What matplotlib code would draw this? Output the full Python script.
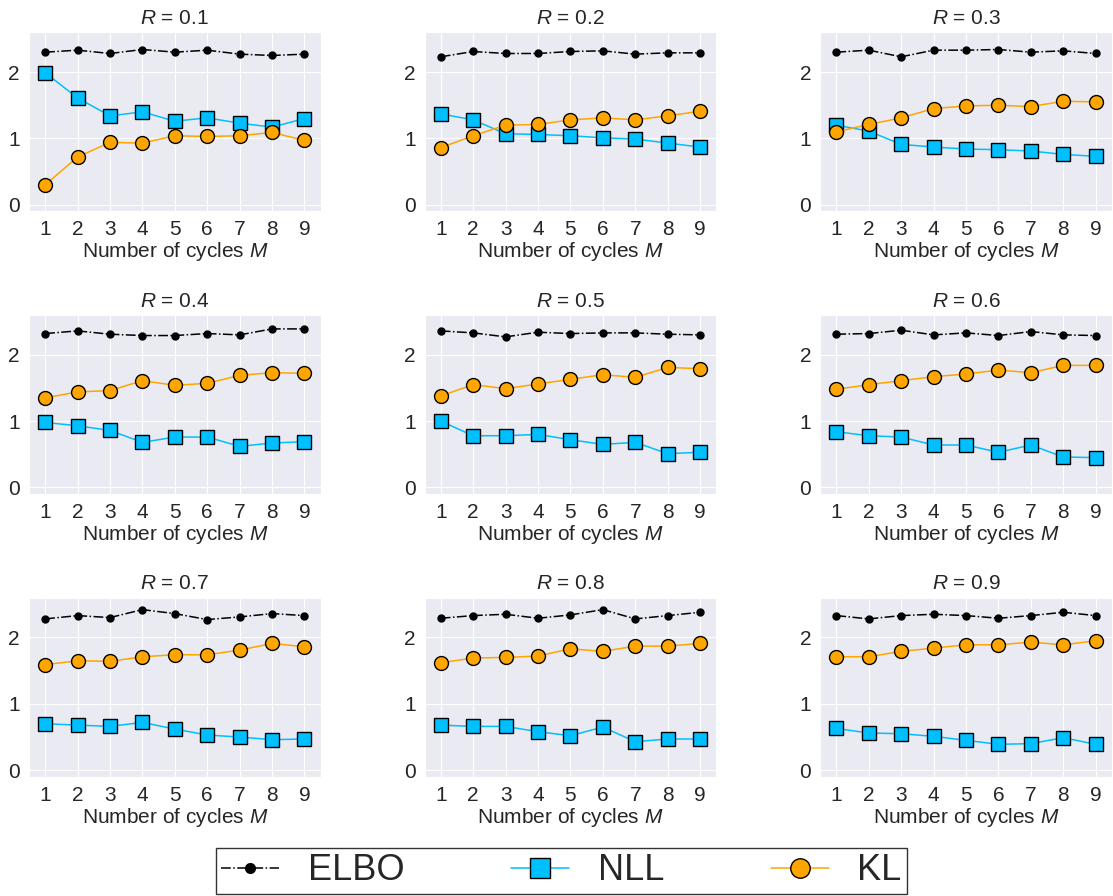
import matplotlib
matplotlib.use("Agg")
import matplotlib.pyplot as plt
import seaborn as sns

sns.set_style("darkgrid")
plt.rcParams["font.family"] = ["Liberation Sans", "DejaVu Sans"]
plt.rcParams["mathtext.fontset"] = "custom"
plt.rcParams["mathtext.rm"] = "Liberation Sans"
plt.rcParams["mathtext.it"] = "Liberation Sans:italic"

M = [1, 2, 3, 4, 5, 6, 7, 8, 9]
R_values = [0.1, 0.2, 0.3, 0.4, 0.5, 0.6, 0.7, 0.8, 0.9]

elbo = [
    [2.30, 2.33, 2.28, 2.34, 2.30, 2.33, 2.27, 2.25, 2.27],
    [2.23, 2.31, 2.28, 2.28, 2.31, 2.32, 2.27, 2.29, 2.29],
    [2.30, 2.33, 2.23, 2.33, 2.33, 2.34, 2.30, 2.32, 2.28],
    [2.32, 2.36, 2.31, 2.29, 2.29, 2.32, 2.30, 2.39, 2.39],
    [2.36, 2.33, 2.27, 2.34, 2.32, 2.33, 2.33, 2.31, 2.30],
    [2.31, 2.32, 2.37, 2.30, 2.33, 2.29, 2.35, 2.30, 2.29],
    [2.28, 2.33, 2.30, 2.42, 2.36, 2.27, 2.31, 2.36, 2.33],
    [2.29, 2.33, 2.35, 2.29, 2.34, 2.42, 2.28, 2.33, 2.38],
    [2.33, 2.28, 2.33, 2.35, 2.33, 2.29, 2.33, 2.38, 2.33],
]
nll = [
    [1.99, 1.61, 1.34, 1.40, 1.26, 1.31, 1.23, 1.17, 1.30],
    [1.37, 1.28, 1.07, 1.06, 1.04, 1.01, 0.99, 0.93, 0.87],
    [1.20, 1.11, 0.91, 0.87, 0.84, 0.83, 0.81, 0.76, 0.73],
    [0.98, 0.93, 0.86, 0.68, 0.76, 0.76, 0.62, 0.67, 0.69],
    [1.00, 0.78, 0.78, 0.80, 0.72, 0.65, 0.68, 0.51, 0.53],
    [0.84, 0.78, 0.76, 0.64, 0.64, 0.53, 0.64, 0.46, 0.45],
    [0.70, 0.68, 0.66, 0.72, 0.62, 0.53, 0.50, 0.46, 0.47],
    [0.68, 0.66, 0.66, 0.58, 0.52, 0.65, 0.43, 0.47, 0.47],
    [0.63, 0.56, 0.55, 0.51, 0.45, 0.39, 0.40, 0.49, 0.39],
]
kl = [
    [0.30, 0.72, 0.94, 0.93, 1.04, 1.03, 1.04, 1.09, 0.97],
    [0.86, 1.04, 1.20, 1.21, 1.28, 1.31, 1.28, 1.34, 1.41],
    [1.10, 1.21, 1.31, 1.45, 1.49, 1.50, 1.48, 1.56, 1.55],
    [1.35, 1.44, 1.46, 1.61, 1.54, 1.57, 1.69, 1.73, 1.72],
    [1.38, 1.55, 1.49, 1.56, 1.63, 1.70, 1.66, 1.81, 1.79],
    [1.48, 1.55, 1.61, 1.67, 1.71, 1.77, 1.73, 1.84, 1.84],
    [1.59, 1.65, 1.64, 1.71, 1.74, 1.74, 1.81, 1.91, 1.86],
    [1.62, 1.69, 1.70, 1.72, 1.83, 1.79, 1.87, 1.87, 1.91],
    [1.71, 1.71, 1.79, 1.84, 1.89, 1.89, 1.93, 1.89, 1.95],
]

fig, axes = plt.subplots(3, 3, figsize=(11.13, 8.96), dpi=100)
fig.subplots_adjust(left=0.026, right=0.999, top=0.964, bottom=0.133,
                    wspace=0.356, hspace=0.578)

for i, ax in enumerate(axes.flat):
    l1, = ax.plot(M, elbo[i], "-.", color="black", marker="o", markersize=5,
                  linewidth=1.1, label="ELBO")
    l2, = ax.plot(M, nll[i], "-", color="#00BFFF", marker="s", markersize=10,
                  markeredgecolor="black", linewidth=1.1, label="NLL")
    l3, = ax.plot(M, kl[i], "-", color="orange", marker="o", markersize=10,
                  markeredgecolor="black", linewidth=1.1, label="KL")
    ax.set_xlim(0.5, 9.5)
    ax.set_ylim(-0.1, 2.6)
    ax.set_xticks(M)
    ax.set_yticks([0, 1, 2])
    ax.tick_params(labelsize=15, pad=3)
    ax.set_title("$R$ = %.1f" % R_values[i], fontsize=15)
    ax.set_xlabel("Number of cycles $M$", fontsize=15, labelpad=0.5)

leg = fig.legend([l1, l2, l3], ["ELBO", "NLL", "KL"], loc="center",
                 bbox_to_anchor=(0.5045, 0.028), ncol=3, frameon=True,
                 fancybox=False, edgecolor="black", facecolor="white",
                 prop={"size": 26}, markerscale=1.4,
                 handlelength=1.6, columnspacing=2.95, borderpad=0.15)
leg.get_frame().set_linewidth(1.0)

fig.savefig("out.png", dpi=100)
